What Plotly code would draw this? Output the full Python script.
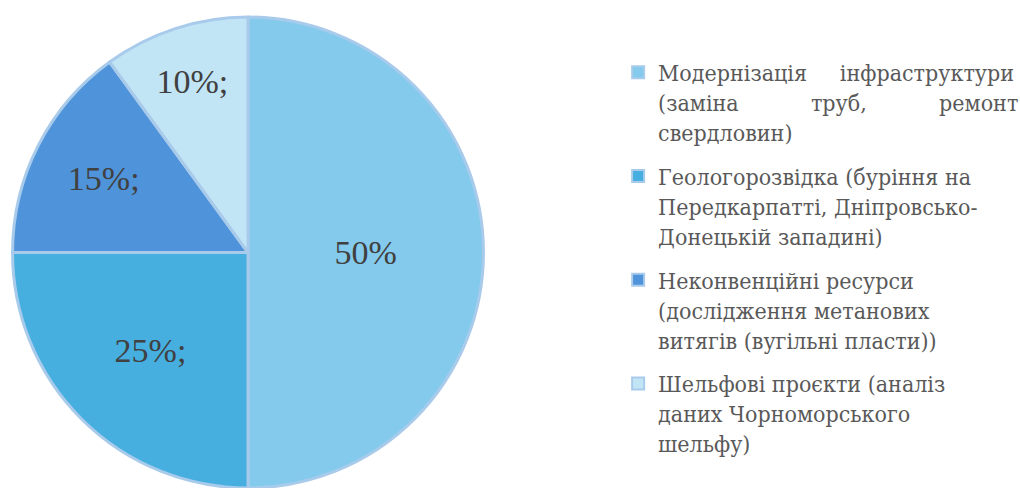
import plotly.graph_objects as go

NB = "\u00a0"

categories = [
    "Модернізація" + NB * 5 + "інфраструктури<br>(заміна" + NB * 11 + "труб," + NB * 11 + "ремонт<br>свердловин)",
    "Геологорозвідка (буріння на<br>Передкарпатті, Дніпровсько-<br>Донецькій западині)",
    "Неконвенційні ресурси<br>(дослідження метанових<br>витягів (вугільні пласти))",
    "Шельфові проєкти (аналіз<br>даних Чорноморського<br>шельфу)",
]
shares = [50, 25, 15, 10]
share_labels = ["50%", "25%;", "15%;", "10%;"]
colors = ["#84CAEC", "#46AFE0", "#4F94DA", "#C2E5F5"]
edge_color = "#A9CBEB"
legend_font = "DejaVu Serif Condensed, DejaVu Serif, serif"

fig = go.Figure()
fig.add_trace(
    go.Pie(
        labels=categories,
        values=shares,
        text=share_labels,
        textinfo="text",
        textposition="inside",
        insidetextorientation="horizontal",
        sort=False,
        direction="clockwise",
        rotation=0,
        marker=dict(colors=colors, line=dict(color=edge_color, width=3)),
        textfont=dict(family="Liberation Serif", size=34, color="#404040"),
        hoverinfo="label+percent",
        domain=dict(x=[0.0123, 0.474], y=[0, 1]),
        showlegend=False,
    )
)

# legend entries, one group per category so the groups can be spaced apart
for name, col in zip(categories, colors):
    fig.add_trace(
        go.Scatter(
            x=[None],
            y=[None],
            mode="markers",
            name=name,
            legendgroup=name,
            marker=dict(symbol="square", size=13, color=col,
                        line=dict(color=edge_color, width=2)),
            hoverinfo="skip",
        )
    )

fig.update_layout(
    width=1020,
    height=488,
    margin=dict(l=0, r=0, t=17, b=0, autoexpand=False),
    paper_bgcolor="white",
    plot_bgcolor="white",
    xaxis=dict(visible=False),
    yaxis=dict(visible=False),
    showlegend=True,
    legend=dict(
        x=0.606,
        y=0.928,
        xanchor="left",
        yanchor="top",
        valign="top",
        tracegroupgap=11,
        font=dict(family=legend_font, size=23, color="#595959"),
        itemsizing="constant",
        itemwidth=30,
        traceorder="grouped",
    ),
)

fig.write_html("out.html")
